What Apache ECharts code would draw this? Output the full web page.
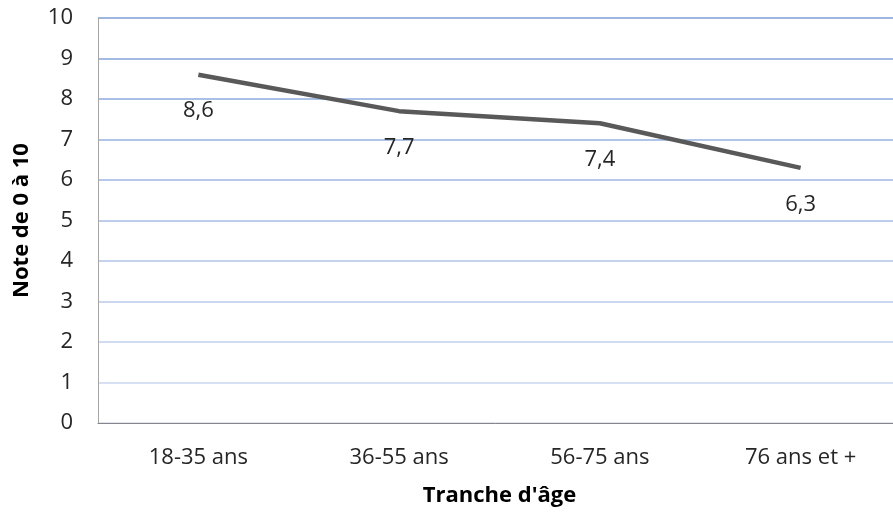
<!DOCTYPE html>
<html>
<head>
<meta charset="utf-8">
<script src="https://cdn.jsdelivr.net/npm/echarts@6/dist/echarts.min.js"></script>
<style>
  html, body { margin: 0; padding: 0; background: #fff; }
  #chart { width: 893px; height: 513px; }
</style>
</head>
<body>
<div id="chart"></div>
<script>
// Age groups and their mean score
var categories = ['18-35 ans', '36-55 ans', '56-75 ans', '76 ans et +'];
var scores = [8.6, 7.7, 7.4, 6.3];
var yTicks = [0, 10, 1];

var font = '"Open Sans", sans-serif';
var chart = echarts.init(document.getElementById('chart'));

// gridlines fade from a stronger blue at the top to a pale one at the bottom
var gridColor = new echarts.graphic.LinearGradient(0, 18, 0, 423, [
    { offset: 0, color: '#9db6e2' },
    { offset: 1, color: '#dde5f5' }
], true);

var option = {
    animation: false,
    grid: { left: 98, right: -8, top: 18, bottom: 90, outerBoundsMode: 'none' },
    xAxis: {
        type: 'category',
        data: categories,
        boundaryGap: true,
        name: "Tranche d'âge",
        nameLocation: 'middle',
        nameGap: 62,
        nameTextStyle: { fontFamily: font, fontSize: 22, fontWeight: 'bold', color: '#000' },
        axisLine: { lineStyle: { color: '#868686', width: 1 } },
        axisTick: { show: false },
        axisLabel: { fontFamily: font, fontSize: 22, color: '#262626', margin: 24 }
    },
    yAxis: {
        type: 'value',
        min: yTicks[0],
        max: yTicks[1],
        interval: yTicks[2],
        name: 'Note de 0 à 10',
        nameLocation: 'middle',
        nameGap: 65,
        nameTextStyle: { fontFamily: font, fontSize: 22, fontWeight: 'bold', color: '#000' },
        axisLine: { show: true, lineStyle: { color: '#a6a6a6', width: 1 } },
        axisTick: { show: false },
        axisLabel: { fontFamily: font, fontSize: 22, color: '#262626', margin: 25 },
        splitLine: { lineStyle: { color: gridColor, width: 2 } }
    },
    series: [{
        type: 'line',
        data: scores,
        symbol: 'circle',
        symbolSize: 1,
        itemStyle: { color: 'rgba(0,0,0,0)' },
        lineStyle: { color: '#595959', width: 4.5 },
        label: {
            show: true,
            position: 'bottom',
            distance: 25,
            fontFamily: font,
            fontSize: 22,
            color: '#262626',
            formatter: function (p) { return String(p.value).replace('.', ','); }
        }
    }]
};
chart.setOption(option);
</script>
</body>
</html>
